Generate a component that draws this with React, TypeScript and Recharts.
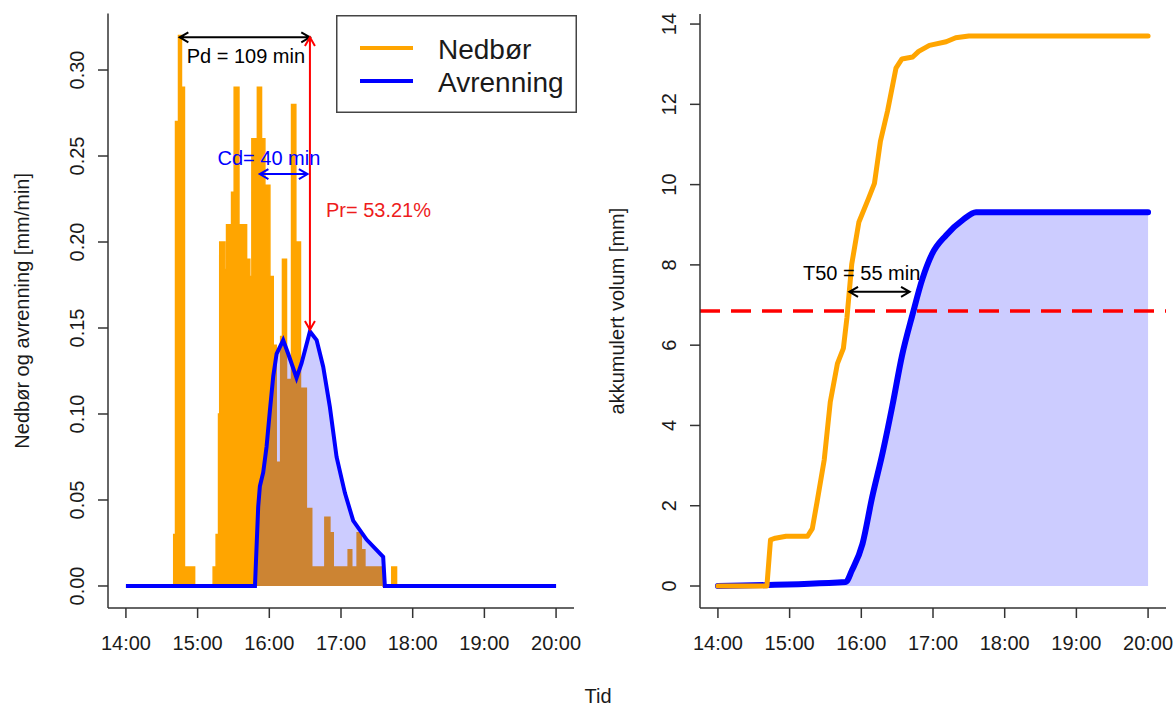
import React from "react";
import {
  Area,
  ComposedChart,
  Legend,
  Line,
  ReferenceDot,
  ReferenceLine,
  XAxis,
  YAxis,
} from "recharts";

const FONT = '"Liberation Sans", Arial, Helvetica, sans-serif';
const ORANGE = "#FFA500";
const BLUE = "#0000FF";
const RED = "#FF0000";
const AXIS = "#333333";
const TEXT = "#1a1a1a";

// time is minutes after 14:00
const hourTicks = [0, 60, 120, 180, 240, 300, 360];
const hourLabels = ["14:00", "15:00", "16:00", "17:00", "18:00", "19:00", "20:00"];
const rateTicks = [0, 0.05, 0.1, 0.15, 0.2, 0.25, 0.3];
const volumeTicks = [0, 2, 4, 6, 8, 10, 12, 14];

// Nedbør (mm/min), step series: value holds from the minute until the next one
const rainMinutes = [
  0, 40, 41.5, 44, 46.5, 49, 57.5, 73, 75.5, 77.5, 78.5, 82.8, 84.2, 88.4, 90.6,
  94.6, 101, 103.7, 105.4, 110, 113.5, 116.3, 120.5, 123.3, 125.8, 129.5, 131,
  134.4, 138.6, 142.2, 146.1, 151, 155.5, 166.5, 170.7, 173.5, 186, 189, 193.5,
  197, 200, 215, 222.5, 226.5, 360,
];
const rainRate = [
  0, 0.03, 0.27, 0.32, 0.29, 0.011, 0, 0.011, 0.03, 0.1, 0.2, 0.184, 0.21, 0.229,
  0.29, 0.21, 0.19, 0.18, 0.26, 0.29, 0.26, 0.233, 0.18, 0.14, 0.072, 0.145, 0.19,
  0.12, 0.28, 0.2, 0.115, 0.045, 0.011, 0.04, 0.031, 0.011, 0.021, 0.011, 0.031,
  0.021, 0.011, 0, 0.011, 0, 0,
];

// Avrenning (mm/min)
const flowMinutes = [
  0, 108, 110.7, 112.1, 114.9, 117.7, 120.5, 123.3, 126.1, 131.6, 135.8, 142.8,
  147, 154, 159.6, 165.1, 170.7, 176.3, 183.3, 190.2, 201.4, 215.3, 216.7, 360,
];
const flowRate = [
  0, 0, 0.046, 0.058, 0.066, 0.081, 0.102, 0.122, 0.135, 0.143, 0.135, 0.121,
  0.1295, 0.148, 0.143, 0.1275, 0.104, 0.075, 0.054, 0.038, 0.027, 0.017, 0, 0,
];

// akkumulert volum (mm)
const rainCumMinutes = [
  0, 41, 44, 48, 57, 75, 79, 83, 89, 94, 100, 105, 108, 112, 118, 126, 131, 136,
  142, 149, 154, 163, 168, 177, 191, 199, 210, 360,
];
const rainCum = [
  0, 0, 1.15, 1.19, 1.24, 1.24, 1.43, 2.1, 3.15, 4.58, 5.54, 5.92, 6.69, 8.02,
  9.07, 9.65, 10.03, 11.08, 11.84, 12.9, 13.13, 13.18, 13.32, 13.47, 13.56,
  13.66, 13.7, 13.7,
];
const flowCumMinutes = [0, 107, 112, 121, 129, 138, 146, 154, 163, 171, 179, 191, 205, 216, 360];
const flowCum = [0, 0.1, 0.38, 1.05, 2.2, 3.34, 4.49, 5.73, 6.78, 7.64, 8.26, 8.74, 9.12, 9.31, 9.31];

const halfVolume = 6.85;

const rainData = rainMinutes.map((t, i) => ({ t, v: rainRate[i] }));
const flowData = flowMinutes.map((t, i) => ({ t, v: flowRate[i] }));
const rainCumData = rainCumMinutes.map((t, i) => ({ t, v: rainCum[i] }));
const flowCumData = flowCumMinutes.map((t, i) => ({ t, v: flowCum[i] }));

const hourLabel = (t: number) => hourLabels[hourTicks.indexOf(t)] ?? "";

function TimeTick({ x, y, payload }: any) {
  return (
    <text x={x} y={y + 23} textAnchor="middle" dominantBaseline="central"
      fontSize={20} fontFamily={FONT} fill={TEXT}>
      {hourLabel(payload.value)}
    </text>
  );
}

function makeValueTick(digits: number) {
  return ({ x, y, payload }: any) => (
    <text x={x - 19} y={y} textAnchor="middle" dominantBaseline="central"
      transform={`rotate(-90, ${x - 19}, ${y})`}
      fontSize={20} fontFamily={FONT} fill={TEXT}>
      {Number(payload.value).toFixed(digits)}
    </text>
  );
}

// double-headed arrow like R's arrows(code = 3)
function makeArrow(color: string, width: number) {
  return (props: any) => {
    const { x1, y1, x2, y2 } = props;
    const a = Math.atan2(y2 - y1, x2 - x1);
    const len = 10;
    const s = Math.PI / 6;
    const head = (x: number, y: number, dir: number) =>
      `M${x - len * Math.cos(dir - s)},${y - len * Math.sin(dir - s)}L${x},${y}` +
      `L${x - len * Math.cos(dir + s)},${y - len * Math.sin(dir + s)}`;
    const d = `M${x1},${y1}L${x2},${y2}` + head(x2, y2, a) + head(x1, y1, a + Math.PI);
    return <path d={d} stroke={color} strokeWidth={width} fill="none" />;
  };
}

function makeNote(text: string, color: string, anchor: "start" | "middle") {
  return (props: any) => (
    <text x={props.cx} y={props.cy} textAnchor={anchor} dominantBaseline="central"
      fontSize={20} fontFamily={FONT} fill={color}>
      {text}
    </text>
  );
}

function LegendBox() {
  return (
    <svg width={241} height={98} style={{ display: "block" }}>
      <rect x={0.75} y={0.75} width={239.5} height={96.5} fill="#fff" stroke="#444" strokeWidth={1.5} />
      <line x1={24} x2={77} y1={33} y2={33} stroke={ORANGE} strokeWidth={4} />
      <line x1={24} x2={77} y1={66} y2={66} stroke={BLUE} strokeWidth={4} />
      <text x={102} y={34} dominantBaseline="central" fontSize={28} fontFamily={FONT} fill={TEXT}>Nedbør</text>
      <text x={102} y={67} dominantBaseline="central" fontSize={28} fontFamily={FONT} fill={TEXT}>Avrenning</text>
    </svg>
  );
}

const axisTitle = (value: string, offset: number) => ({
  value,
  angle: -90,
  position: "insideLeft" as const,
  offset,
  fontSize: 20,
  fontFamily: FONT,
  fill: TEXT,
  style: { textAnchor: "middle" },
});

export default function App() {
  return (
    <div style={{ position: "absolute", left: 0, top: 0, width: 1176, height: 708, background: "#fff", fontFamily: FONT }}>
      <div style={{ position: "absolute", left: 0, top: 0 }}>
        <ComposedChart width={592} height={708} margin={{ top: 13.6, right: 18, bottom: 40, left: 0 }}>
          <XAxis dataKey="t" type="number" domain={[-15, 375]} ticks={hourTicks} interval={0}
            tick={<TimeTick />} tickSize={10} height={60} allowDataOverflow
            axisLine={{ stroke: AXIS, strokeWidth: 1.5 }} tickLine={{ stroke: AXIS, strokeWidth: 1.5 }} />
          <YAxis type="number" domain={[-0.0128, 0.3328]} ticks={rateTicks} interval={0}
            tick={makeValueTick(2)} tickSize={10} width={108} allowDataOverflow
            axisLine={{ stroke: AXIS, strokeWidth: 1.5 }} tickLine={{ stroke: AXIS, strokeWidth: 1.5 }}
            label={axisTitle("Nedbør og avrenning [mm/min]", 22)} />
          <Area data={rainData} dataKey="v" type="stepAfter" baseValue={0}
            stroke={ORANGE} strokeWidth={1.5} fill={ORANGE} fillOpacity={1}
            isAnimationActive={false} dot={false} activeDot={false} />
          <Area data={flowData} dataKey="v" type="linear" baseValue={0}
            stroke={BLUE} strokeWidth={4} fill={BLUE} fillOpacity={0.2}
            isAnimationActive={false} dot={false} activeDot={false} />
          <ReferenceLine segment={[{ x: 45, y: 0.319 }, { x: 154, y: 0.319 }]} shape={makeArrow("#000", 2)} />
          <ReferenceLine segment={[{ x: 154, y: 0.319 }, { x: 154, y: 0.149 }]} shape={makeArrow(RED, 2)} />
          <ReferenceLine segment={[{ x: 112, y: 0.2395 }, { x: 152, y: 0.2395 }]} shape={makeArrow(BLUE, 2)} />
          <ReferenceDot x={100.4} y={0.308} r={1} shape={makeNote("Pd = 109 min", "#000", "middle")} />
          <ReferenceDot x={119.7} y={0.249} r={1} shape={makeNote("Cd= 40 min", BLUE, "middle")} />
          <ReferenceDot x={167.4} y={0.2186} r={1} shape={makeNote("Pr= 53.21%", "#EE1C1C", "start")} />
          <Legend layout="vertical" align="center" verticalAlign="middle"
            wrapperStyle={{ left: 336, top: 15, width: 241, height: 98 }}
            content={() => <LegendBox />} />
        </ComposedChart>
      </div>
      <div style={{ position: "absolute", left: 592, top: 0 }}>
        <ComposedChart width={584} height={708} margin={{ top: 14.1, right: 10, bottom: 40, left: 0 }}>
          <XAxis dataKey="t" type="number" domain={[-15, 375]} ticks={hourTicks} interval={0}
            tick={<TimeTick />} tickSize={10} height={60} allowDataOverflow
            axisLine={{ stroke: AXIS, strokeWidth: 1.5 }} tickLine={{ stroke: AXIS, strokeWidth: 1.5 }} />
          <YAxis type="number" domain={[-0.548, 14.248]} ticks={volumeTicks} interval={0}
            tick={makeValueTick(0)} tickSize={10} width={108} allowDataOverflow
            axisLine={{ stroke: AXIS, strokeWidth: 1.5 }} tickLine={{ stroke: AXIS, strokeWidth: 1.5 }}
            label={axisTitle("akkumulert volum [mm]", 25)} />
          <Line data={rainCumData} dataKey="v" type="linear" stroke={ORANGE} strokeWidth={5}
            strokeLinecap="round" strokeLinejoin="round" dot={false} activeDot={false} isAnimationActive={false} />
          <Area data={flowCumData} dataKey="v" type="monotone" baseValue={0}
            stroke={BLUE} strokeWidth={6} fill={BLUE} fillOpacity={0.2} strokeLinecap="round"
            isAnimationActive={false} dot={false} activeDot={false} />
          <ReferenceLine y={halfVolume} stroke={RED} strokeWidth={3.5} strokeDasharray="20 11" />
          <ReferenceLine segment={[{ x: 110, y: 7.33 }, { x: 160.5, y: 7.33 }]} shape={makeArrow("#000", 2)} />
          <ReferenceDot x={120.3} y={7.8} r={1} shape={makeNote("T50 = 55 min", "#000", "middle")} />
        </ComposedChart>
      </div>
      <div style={{ position: "absolute", left: 598, top: 685, transform: "translateX(-50%)", fontSize: 20, color: TEXT }}>
        Tid
      </div>
    </div>
  );
}
